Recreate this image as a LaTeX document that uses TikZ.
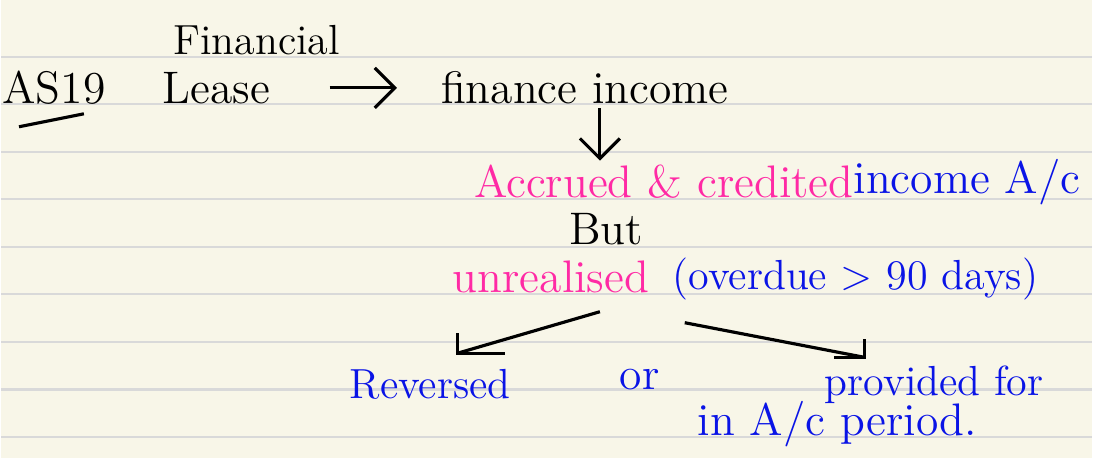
\documentclass[tikz,border=0pt]{standalone}
\usepackage{tikz}
\usetikzlibrary{arrows.meta,positioning,calc}
\definecolor{paper}{HTML}{F8F6E8}
\definecolor{ruling}{HTML}{D9D9D9}
\definecolor{inkpink}{HTML}{FF2AA5}
\definecolor{inkblue}{HTML}{0A14E6}

\begin{document}
\begin{tikzpicture}[
  word/.style={inner sep=1pt,font=\fontsize{13}{16}\selectfont},
  narrow/.style={inner sep=1pt,font=\fontsize{12}{14}\selectfont},
  small/.style={inner sep=1pt,font=\fontsize{12}{14}\selectfont},
  arr/.style={-{Straight Barb[length=2mm,width=4mm]},line width=0.9pt},
  pen/.style={line width=0.9pt}
]

  % ---- paper and ruling ---------------------------------------
  \fill[paper] (0,0) rectangle (10.93,-4.59);
  \foreach \k in {0,...,8}
    \draw[ruling,line width=0.6pt] (0,-0.57-0.476*\k) -- (10.93,-0.57-0.476*\k);
  \useasboundingbox (0,0) rectangle (10.93,-4.59);

  % ---- top row --------------------------------------------------
  \node[word] (as)     at (0.53,-0.88) {AS19};
  \node[small] (fin)   at (2.56,-0.40) {Financial};
  \node[word] (lease)  at (2.16,-0.88) {Lease};
  \node[word] (income) at (5.85,-0.88) {finance income};

  \draw[pen] ([shift={(-0.35,-0.18)}]as.south) -- ([shift={(0.30,-0.05)}]as.south);
  \draw[arr,shorten <=0.55cm,shorten >=0.40cm] (lease.east) -- (income.west);

  % ---- accrued line ---------------------------------------------
  \node[word,text=inkpink] (accr)  at (6.64,-1.82) {Accrued \& credited};
  \node[word,text=inkblue] (incac) at (9.68,-1.82) {income A/c};

  \draw[arr] ([xshift=1.5mm]income.south) -- ([xshift=1.5mm]income.south |- accr.north);

  % ---- but / unrealised -----------------------------------------
  \node[word] (but) at (6.06,-2.30) {But};
  \node[word,text=inkpink]   (unreal)  at (5.51,-2.77) {unrealised};
  \node[narrow,text=inkblue] (overdue) at (8.56,-2.80) {(overdue > 90 days)};

  % ---- two outcomes ---------------------------------------------
  \node[narrow,text=inkblue] (rev)    at (4.30,-3.85) {Reversed};
  \node[word,text=inkblue]   (or)     at (6.40,-3.80) {or};
  \node[narrow,text=inkblue] (prov)   at (9.35,-3.85) {provided for};
  \node[word,text=inkblue]   (period) at (8.38,-4.25) {in A/c period.};

  \coordinate (revtip)  at (4.57,-3.54);
  \coordinate (provtip) at (8.65,-3.58);

  \draw[pen] ([xshift=0.49cm,yshift=-0.15cm]unreal.south) -- (revtip);
  \draw[pen] ([yshift=0.20cm]revtip) -- (revtip) -- ([xshift=0.48cm]revtip);
  \draw[pen] ([xshift=-1.71cm,yshift=-0.18cm]overdue.south) -- (provtip);
  \draw[pen] ([yshift=0.18cm]provtip) -- (provtip) -- ([xshift=-0.30cm]provtip);

\end{tikzpicture}
\end{document}
